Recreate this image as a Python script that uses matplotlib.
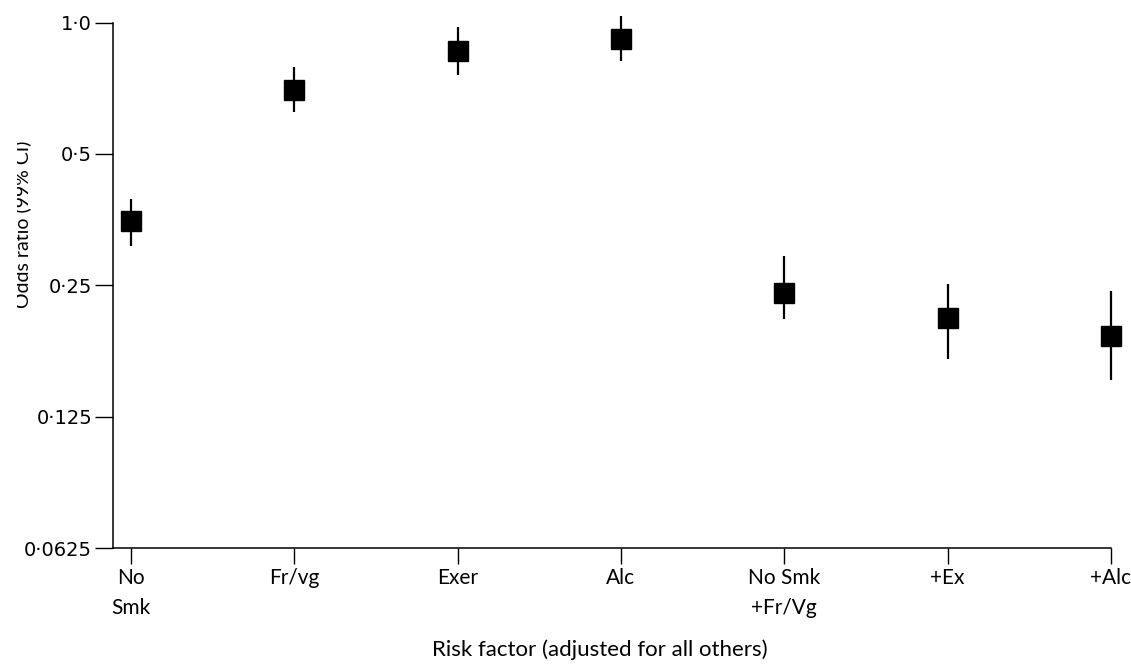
"""Odds ratios (99% CI) by risk factor, log2 y axis."""
import matplotlib
matplotlib.use("Agg")
import matplotlib.pyplot as plt
from matplotlib.ticker import FixedLocator, NullLocator
from matplotlib.transforms import Bbox, TransformedBbox

# data
factors = ["No\nSmk", "Fr/vg", "Exer", "Alc", "No Smk\n+Fr/Vg", "+Ex", "+Alc"]
odds_ratio = [0.350, 0.701, 0.861, 0.915, 0.240, 0.210, 0.191]
ci_low = [0.308, 0.622, 0.759, 0.817, 0.209, 0.169, 0.152]
ci_high = [0.394, 0.792, 0.977, 1.035, 0.292, 0.252, 0.242]
yticks = [0.0625, 0.125, 0.25, 0.5, 1.0]
ytick_labels = ["0·0625", "0·125", "0·25", "0·5", "1·0"]


def main():
    W, H = 1131, 666
    fig = plt.figure(figsize=(W / 100, H / 100), dpi=100)
    ax = fig.add_axes([113 / W, 1 - 548 / H, 998 / W, 525.5 / H])

    xs = list(range(len(factors)))
    yerr = [[m - lo for m, lo in zip(odds_ratio, ci_low)],
            [hi - m for m, hi in zip(odds_ratio, ci_high)]]
    ax.errorbar(xs, odds_ratio, yerr=yerr, fmt="s", color="black",
                ecolor="black", elinewidth=1.6, capsize=0,
                markersize=14.5, clip_on=False, zorder=3)

    ax.set_yscale("log", base=2)
    ax.set_ylim(0.0625, 1.0)
    ax.set_xlim(-0.11, 6.0)
    ax.yaxis.set_major_locator(FixedLocator(yticks))
    ax.yaxis.set_minor_locator(NullLocator())
    ax.set_yticklabels(ytick_labels, family="DejaVu Sans", fontsize=14)
    ax.set_xticks(xs)
    ax.set_xticklabels(factors, family="Lato", fontsize=15, linespacing=1.6,
                       va="top")

    ax.tick_params(axis="y", length=13, width=1, pad=2)
    ax.tick_params(axis="x", length=11.5, width=1, pad=3)
    for side in ("top", "right"):
        ax.spines[side].set_visible(False)
    for side in ("left", "bottom"):
        ax.spines[side].set_linewidth(1.1)

    fig.text(600 / W, 1 - 650 / H, "Risk factor (adjusted for all others)",
             ha="center", va="center", family="Lato", fontsize=16)

    # y label sits half off the scanned page in the reference
    yl = fig.text(31 / W, 1 - 224 / H, "Odds ratio (99% CI)", rotation=90,
                  ha="right", va="center", family="Lato", fontsize=14)
    yl.set_clip_box(TransformedBbox(Bbox([[17 / W, 0], [1, 1]]),
                                    fig.transFigure))
    yl.set_clip_on(True)

    fig.savefig("out.png", dpi=100)


if __name__ == "__main__":
    main()
